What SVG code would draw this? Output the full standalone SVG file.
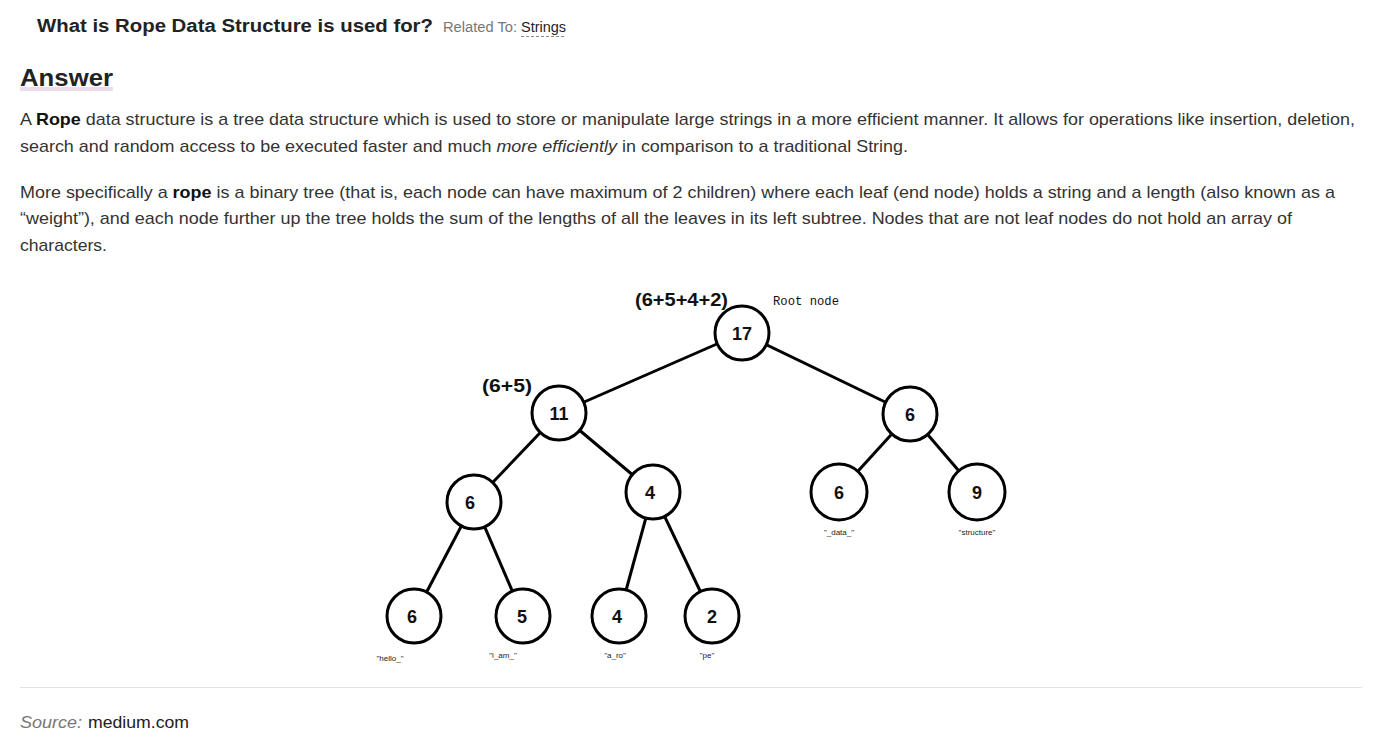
<svg xmlns="http://www.w3.org/2000/svg" width="1390" height="750" viewBox="0 0 1390 750">
<style>
.p{font-family:"Liberation Sans",Arial,sans-serif;font-size:17px;fill:#333}
.n{fill:#fff;stroke:#000;stroke-width:3}
.num{font-family:"Liberation Sans",Arial,sans-serif;font-weight:bold;font-size:18px;fill:#111;text-anchor:middle}
.lbl{font-family:"Liberation Sans",Arial,sans-serif;font-size:8px;fill:#222;text-anchor:middle}
.e{stroke:#000;stroke-width:3;fill:none}
</style>
<rect width="1390" height="750" fill="#fff"/>
<g id="header">
<text x="37" y="32" font-family="Liberation Sans, Arial, sans-serif" font-weight="bold" font-size="18" fill="#222" textLength="396" lengthAdjust="spacingAndGlyphs">What is Rope Data Structure is used for?</text>
<text x="443" y="32" font-family="Liberation Sans, Arial, sans-serif" font-size="14" fill="#777" textLength="74" lengthAdjust="spacingAndGlyphs">Related To:</text>
<text x="521" y="32" font-family="Liberation Sans, Arial, sans-serif" font-size="14" fill="#222" textLength="45" lengthAdjust="spacingAndGlyphs">Strings</text>
<line x1="521" y1="36.5" x2="566" y2="36.5" stroke="#888" stroke-width="1" stroke-dasharray="3,2"/>
<rect x="20" y="87" width="93" height="4" fill="#ecdcee"/>
<text x="20" y="86" font-family="Liberation Sans, Arial, sans-serif" font-weight="bold" font-size="24" fill="#222" textLength="93" lengthAdjust="spacingAndGlyphs">Answer</text>
</g>
<g id="body">
<text class="p" x="20" y="125" textLength="1335" lengthAdjust="spacingAndGlyphs">A <tspan font-weight="bold" fill="#111">Rope</tspan> data structure is a tree data structure which is used to store or manipulate large strings in a more efficient manner. It allows for operations like insertion, deletion,</text>
<text class="p" x="20" y="152" textLength="888" lengthAdjust="spacingAndGlyphs">search and random access to be executed faster and much <tspan font-style="italic">more efficiently</tspan> in comparison to a traditional String.</text>
<text class="p" x="20" y="198" textLength="1315" lengthAdjust="spacingAndGlyphs">More specifically a <tspan font-weight="bold" fill="#111">rope</tspan> is a binary tree (that is, each node can have maximum of 2 children) where each leaf (end node) holds a string and a length (also known as a</text>
<text class="p" x="20" y="224" textLength="1272" lengthAdjust="spacingAndGlyphs">“weight”), and each node further up the tree holds the sum of the lengths of all the leaves in its left subtree. Nodes that are not leaf nodes do not hold an array of</text>
<text class="p" x="20" y="251" textLength="87" lengthAdjust="spacingAndGlyphs">characters.</text>
</g>
<g id="connectors">
<line class="e" x1="742" y1="333" x2="559" y2="413"/>
<line class="e" x1="742" y1="333" x2="910" y2="414"/>
<line class="e" x1="559" y1="413" x2="474" y2="502"/>
<line class="e" x1="559" y1="413" x2="653" y2="492"/>
<line class="e" x1="474" y1="502" x2="414" y2="616"/>
<line class="e" x1="474" y1="502" x2="523" y2="616"/>
<line class="e" x1="653" y1="492" x2="619" y2="616"/>
<line class="e" x1="653" y1="492" x2="712" y2="616"/>
<line class="e" x1="910" y1="414" x2="839" y2="492"/>
<line class="e" x1="910" y1="414" x2="977" y2="492"/>
</g>
<g id="annotations">
<text x="635" y="306" font-family="Liberation Sans, Arial, sans-serif" font-weight="bold" font-size="18" fill="#111" textLength="93" lengthAdjust="spacingAndGlyphs">(6+5+4+2)</text>
<text x="773" y="305" font-family="Liberation Mono, DejaVu Sans Mono, monospace" font-size="12" fill="#111" textLength="66" lengthAdjust="spacingAndGlyphs">Root node</text>
<text x="482" y="392" font-family="Liberation Sans, Arial, sans-serif" font-weight="bold" font-size="18" fill="#111" textLength="50" lengthAdjust="spacingAndGlyphs">(6+5)</text>
</g>
<g id="node-root"><circle class="n" cx="742" cy="333" r="27"/><text class="num" x="742" y="340">17</text></g>
<g id="node-11"><circle class="n" cx="559" cy="413" r="27"/><text class="num" x="559" y="420">11</text></g>
<g id="node-6r"><circle class="n" cx="910" cy="414" r="27"/><text class="num" x="910" y="421">6</text></g>
<g id="node-6l"><circle class="n" cx="474" cy="502" r="27"/><text class="num" x="470" y="509">6</text></g>
<g id="node-4"><circle class="n" cx="653" cy="492" r="27"/><text class="num" x="650" y="499">4</text></g>
<g id="node-data"><circle class="n" cx="839" cy="492" r="28"/><text class="num" x="839" y="499">6</text><text class="lbl" x="839" y="535">"_data_"</text></g>
<g id="node-structure"><circle class="n" cx="977" cy="492" r="28"/><text class="num" x="977" y="499">9</text><text class="lbl" x="977" y="535">"structure"</text></g>
<g id="node-hello"><circle class="n" cx="414" cy="616" r="27"/><text class="num" x="412" y="623">6</text><text class="lbl" x="390" y="661">"hello_"</text></g>
<g id="node-iam"><circle class="n" cx="523" cy="616" r="27"/><text class="num" x="522" y="623">5</text><text class="lbl" x="503" y="658">"i_am_"</text></g>
<g id="node-aro"><circle class="n" cx="619" cy="616" r="27"/><text class="num" x="617" y="623">4</text><text class="lbl" x="615" y="658">"a_ro"</text></g>
<g id="node-pe"><circle class="n" cx="712" cy="616" r="27"/><text class="num" x="712" y="623">2</text><text class="lbl" x="707" y="658">"pe"</text></g>
<g id="footer">
<line x1="20" y1="687.5" x2="1362" y2="687.5" stroke="#e2e2e2" stroke-width="1"/>
<text x="20" y="728" font-family="Liberation Sans, Arial, sans-serif" font-size="17" fill="#777" font-style="italic" textLength="62" lengthAdjust="spacingAndGlyphs">Source:</text>
<text x="88" y="728" font-family="Liberation Sans, Arial, sans-serif" font-size="17" fill="#222" textLength="101" lengthAdjust="spacingAndGlyphs">medium.com</text>
</g>
</svg>
